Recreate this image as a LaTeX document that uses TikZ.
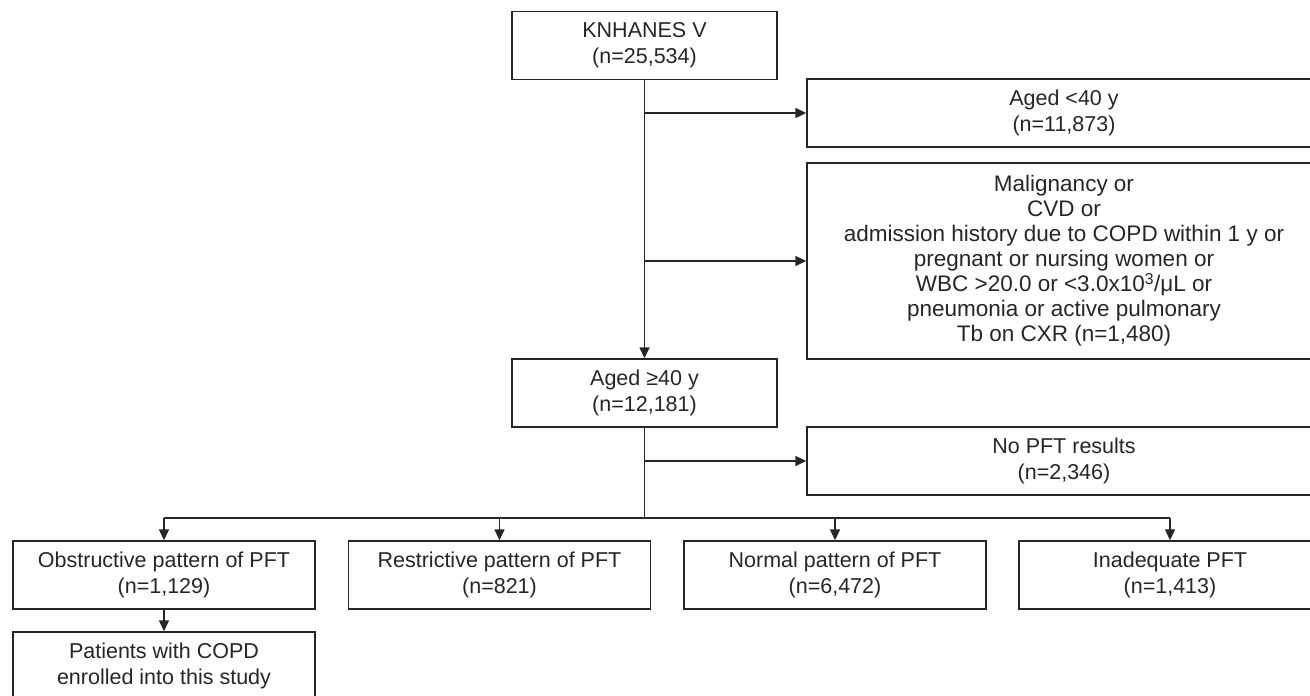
\documentclass[tikz,border=0pt]{standalone}
\usepackage{fontspec}
\setmainfont{Liberation Sans}
\usetikzlibrary{arrows.meta}
\definecolor{ink}{HTML}{262626}
\tikzset{
	box/.style={draw=ink, line width=1.4pt, align=center, text=ink, inner sep=0pt,
		minimum height=68pt, font=\fontsize{21.5}{26}\selectfont},
	wide/.style={box, minimum width=514pt},
	pft/.style={box, minimum width=302pt},
	arr/.style={draw=ink, line width=1.4pt, -{Triangle[length=11pt, width=10pt]}},
	link/.style={draw=ink, line width=1.4pt}
}
\begin{document}
\begin{tikzpicture}[x=1pt, y=-1pt]
	\useasboundingbox (0, 0) rectangle (1310, 696);
	\clip (0, 0) rectangle (1310, 696);
	\node[box, minimum width=265pt] (knhanes) at (644.5, 45.5) {KNHANES V\\(n=25,534)};
	\node[wide] (young) at (1064, 113) {Aged <40 y\\(n=11,873)};
	\node[wide, minimum height=196pt, font=\fontsize{22.5}{25}\selectfont] (excl) at (1064, 261)
		{Malignancy or\\CVD or\\admission history due to COPD within 1 y or\\pregnant or nursing women or\\
		WBC >20.0 or <3.0x10\textsuperscript{3}/μL or\\pneumonia or active pulmonary\\Tb on CXR (n=1,480)};
	\node[box, minimum width=265pt] (adult) at (644.5, 393) {Aged ≥40 y\\(n=12,181)};
	\node[wide] (nopft) at (1064, 461) {No PFT results\\(n=2,346)};
	\node[pft] (obstr) at (164, 575) {Obstructive pattern of PFT\\(n=1,129)};
	\node[pft] (restr) at (499.5, 575) {Restrictive pattern of PFT\\(n=821)};
	\node[pft] (normal) at (835, 575) {Normal pattern of PFT\\(n=6,472)};
	\node[pft] (inadeq) at (1170, 575) {Inadequate PFT\\(n=1,413)};
	\node[pft] (copd) at (164, 666) {Patients with COPD\\enrolled into this study};

	\coordinate (split) at (644.5, 518);
	\draw[arr] (knhanes) -- (adult);
	\draw[arr] (knhanes.south |- young.west) -- (young);
	\draw[arr] (knhanes.south |- excl.west) -- (excl);
	\draw[link] (adult) -- (split);
	\draw[arr] (adult.south |- nopft.west) -- (nopft);
	\draw[link] (obstr.north |- split) -- (inadeq.north |- split);
	\foreach \n in {obstr, restr, normal, inadeq}
		\draw[arr] (\n.north |- split) -- (\n);
	\draw[arr] (obstr) -- (copd);
\end{tikzpicture}
\end{document}
